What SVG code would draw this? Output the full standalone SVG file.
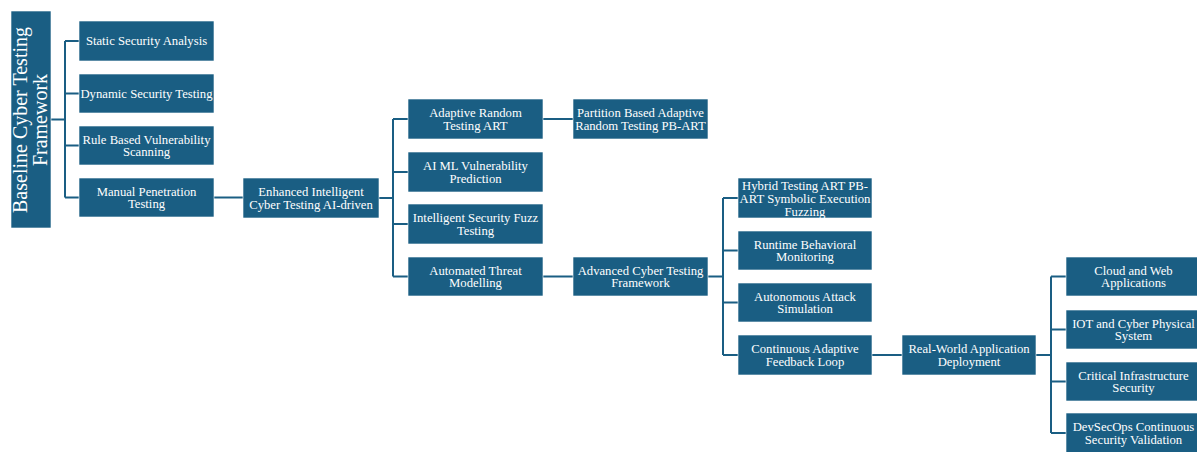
<svg xmlns="http://www.w3.org/2000/svg" width="1197" height="452" viewBox="0 0 1197 452">
<style>
.b{fill:#1a5e83;stroke:#ffffff;stroke-width:0.6}
.t{font-family:"Liberation Serif","Times New Roman",serif;font-size:12.7px;fill:#ffffff;text-anchor:middle}
.r{font-family:"Liberation Serif","Times New Roman",serif;font-size:20px;fill:#ffffff;text-anchor:middle}
.c{fill:none;stroke:#1a5e83;stroke-width:2}
</style>
<rect width="1197" height="452" fill="#ffffff"/>
<g id="connectors">
<path class="c" d="M51,119.5H65M65,41V197.5M65,41H79M65,93.5H79M65,145.5H79M65,197.5H79"/>
<path class="c" d="M214,197.5H243"/>
<path class="c" d="M379,198H393M393,119V276.5M393,119H408M393,172H408M393,224H408M393,276.5H408"/>
<path class="c" d="M543,119H573M543,276.5H573"/>
<path class="c" d="M708,276.5H723M723,198V355M723,198H738M723,250.5H738M723,302.5H738M723,355H738"/>
<path class="c" d="M872,355H902"/>
<path class="c" d="M1036,355H1051M1051,276.5V433M1051,276.5H1066M1051,329.5H1066M1051,381.5H1066M1051,433H1066"/>
</g>
<g id="root"><rect class="b" x="11" y="11" width="40" height="217"/>
<text class="r" transform="translate(27,120) rotate(-90)">Baseline Cyber Testing</text>
<text class="r" transform="translate(46.5,120) rotate(-90)">Framework</text></g>
<g id="n-static"><rect class="b" x="79" y="21" width="135" height="40"/><text class="t" x="146.5" y="45.3">Static Security Analysis</text></g>
<g id="n-dynamic"><rect class="b" x="79" y="74" width="135" height="39"/><text class="t" x="146.5" y="97.8">Dynamic Security Testing</text></g>
<g id="n-rule"><rect class="b" x="79" y="126" width="135" height="39"/><text class="t" x="146.5" y="143.5">Rule Based Vulnerability</text><text class="t" x="146.5" y="156.3">Scanning</text></g>
<g id="n-manual"><rect class="b" x="79" y="178" width="135" height="39"/><text class="t" x="146.5" y="195.5">Manual Penetration</text><text class="t" x="146.5" y="208.3">Testing</text></g>
<g id="n-enhanced"><rect class="b" x="243" y="178" width="136" height="40"/><text class="t" x="311" y="196">Enhanced Intelligent</text><text class="t" x="311" y="208.8">Cyber Testing AI-driven</text></g>
<g id="n-art"><rect class="b" x="408" y="99" width="135" height="40"/><text class="t" x="475.5" y="117">Adaptive Random</text><text class="t" x="475.5" y="129.8">Testing ART</text></g>
<g id="n-aiml"><rect class="b" x="408" y="152" width="135" height="40"/><text class="t" x="475.5" y="170">AI ML Vulnerability</text><text class="t" x="475.5" y="182.8">Prediction</text></g>
<g id="n-fuzz"><rect class="b" x="408" y="204" width="135" height="40"/><text class="t" x="475.5" y="222">Intelligent Security Fuzz</text><text class="t" x="475.5" y="234.8">Testing</text></g>
<g id="n-threat"><rect class="b" x="408" y="257" width="135" height="39"/><text class="t" x="475.5" y="274.5">Automated Threat</text><text class="t" x="475.5" y="287.3">Modelling</text></g>
<g id="n-pbart"><rect class="b" x="573" y="99" width="135" height="40"/><text class="t" x="640.5" y="117">Partition Based Adaptive</text><text class="t" x="640.5" y="129.8">Random Testing PB-ART</text></g>
<g id="n-advanced"><rect class="b" x="573" y="257" width="135" height="39"/><text class="t" x="640.5" y="274.5">Advanced Cyber Testing</text><text class="t" x="640.5" y="287.3">Framework</text></g>
<g id="n-hybrid"><rect class="b" x="738" y="178" width="134" height="40"/><text class="t" x="805" y="189.5">Hybrid Testing ART PB-</text><text class="t" x="805" y="202.5">ART Symbolic Execution</text><text class="t" x="805" y="215.5">Fuzzing</text></g>
<g id="n-runtime"><rect class="b" x="738" y="231" width="134" height="39"/><text class="t" x="805" y="248.5">Runtime Behavioral</text><text class="t" x="805" y="261.3">Monitoring</text></g>
<g id="n-autonomous"><rect class="b" x="738" y="283" width="134" height="39"/><text class="t" x="805" y="300.5">Autonomous Attack</text><text class="t" x="805" y="313.3">Simulation</text></g>
<g id="n-continuous"><rect class="b" x="738" y="335" width="134" height="40"/><text class="t" x="805" y="353">Continuous Adaptive</text><text class="t" x="805" y="365.8">Feedback Loop</text></g>
<g id="n-realworld"><rect class="b" x="902" y="335" width="134" height="40"/><text class="t" x="969" y="353">Real-World Application</text><text class="t" x="969" y="365.8">Deployment</text></g>
<g id="n-cloud"><rect class="b" x="1066" y="257" width="135" height="39"/><text class="t" x="1133.5" y="274.5">Cloud and Web</text><text class="t" x="1133.5" y="287.3">Applications</text></g>
<g id="n-iot"><rect class="b" x="1066" y="310" width="135" height="39"/><text class="t" x="1133.5" y="327.5">IOT and Cyber Physical</text><text class="t" x="1133.5" y="340.3">System</text></g>
<g id="n-critical"><rect class="b" x="1066" y="362" width="135" height="39"/><text class="t" x="1133.5" y="379.5">Critical Infrastructure</text><text class="t" x="1133.5" y="392.3">Security</text></g>
<g id="n-devsecops"><rect class="b" x="1066" y="413" width="135" height="40"/><text class="t" x="1133.5" y="431">DevSecOps Continuous</text><text class="t" x="1133.5" y="443.8">Security Validation</text></g>
</svg>
